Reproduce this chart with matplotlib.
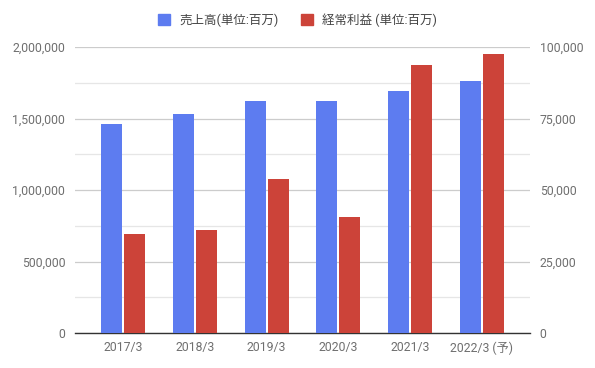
import matplotlib
matplotlib.use("Agg")
import matplotlib.pyplot as plt
from matplotlib.ticker import FuncFormatter, MultipleLocator
from matplotlib.patches import Patch
import numpy as np

categories = ["2017/3", "2018/3", "2019/3", "2020/3", "2021/3", "2022/3 (予)"]
sales = [1462000, 1531000, 1622000, 1622000, 1692000, 1762000]
ordinary_profit = [34600, 36000, 53800, 40600, 93800, 97700]
series_names = ["売上高(単位:百万)", "経常利益 (単位:百万)"]

blue = "#5d7cf0"
red = "#cc4339"
tick_color = "#6f6f6f"

plt.rcParams['font.family'] = ['Roboto', 'Noto Sans CJK JP', 'DejaVu Sans']

fig = plt.figure(figsize=(5.95, 3.68), dpi=100)
ax = fig.add_axes([75/595, 1-333/368, 455/595, 286/368])
ax2 = ax.twinx()

x = np.arange(len(categories))
w = 0.29
off = 0.16
ax.bar(x - off, sales, width=w, color=blue, zorder=3)
ax2.bar(x + off, ordinary_profit, width=w, color=red, zorder=3)

ax.set_ylim(0, 2000000)
ax2.set_ylim(0, 100000)
ax.set_xlim(-0.67, 5.67)

ax.yaxis.set_major_locator(MultipleLocator(500000))
ax.yaxis.set_minor_locator(MultipleLocator(250000))
ax2.yaxis.set_major_locator(MultipleLocator(25000))
ax.yaxis.set_major_formatter(FuncFormatter(lambda v, p: f"{int(v):,}"))
ax2.yaxis.set_major_formatter(FuncFormatter(lambda v, p: f"{int(v):,}"))

ax.grid(axis='y', which='major', color='#cccccc', linewidth=0.9, zorder=0)
ax.grid(axis='y', which='minor', color='#e6e6e6', linewidth=0.9, zorder=0)
ax.set_axisbelow(True)

for a in (ax, ax2):
    for s in a.spines.values():
        s.set_visible(False)
ax.spines['bottom'].set_visible(True)
ax.spines['bottom'].set_color('#333333')
ax.spines['bottom'].set_linewidth(1.0)

ax.set_xticks(x)
ax.set_xticklabels(categories)
ax.tick_params(axis='x', length=0, pad=6, labelsize=8.8, labelcolor=tick_color)
ax.tick_params(axis='y', which='both', length=0, pad=7, labelsize=8.8, labelcolor=tick_color)
ax2.tick_params(axis='y', which='both', length=0, pad=7, labelsize=8.8, labelcolor=tick_color)

handles = [Patch(color=blue), Patch(color=red)]
fig.legend(handles, series_names, loc='center', bbox_to_anchor=(0.5, 1-20/368), ncol=2,
           frameon=False, fontsize=9, handlelength=1.0, handleheight=1.0,
           handletextpad=0.7, columnspacing=1.8, labelcolor='#444444')

fig.savefig("out.png", dpi=100)
